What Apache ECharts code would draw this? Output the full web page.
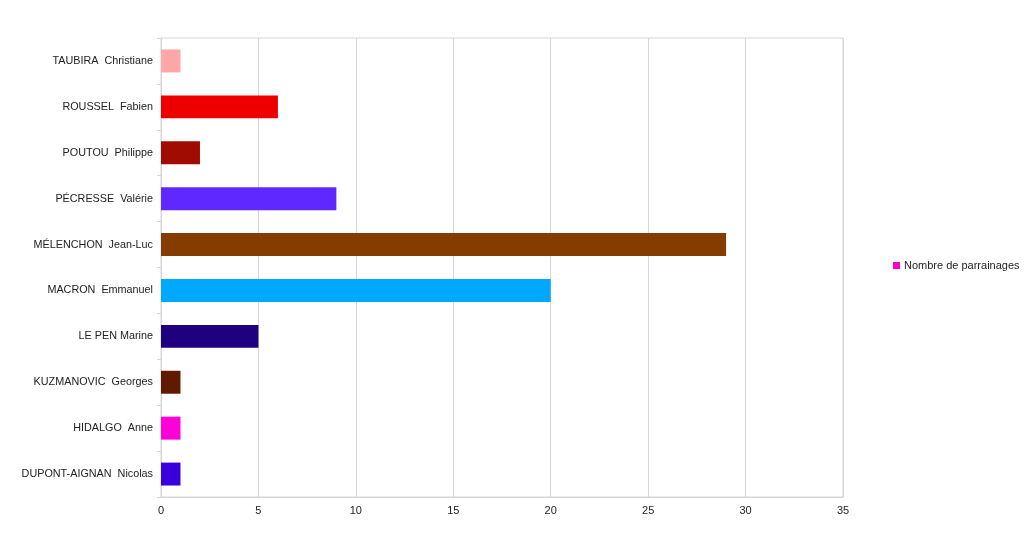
<!DOCTYPE html>
<html><head><meta charset="utf-8">
<script src="https://cdn.jsdelivr.net/npm/echarts@6/dist/echarts.min.js"></script>
<style>html,body{margin:0;padding:0;background:#fff}#c{width:1024px;height:533px}</style>
</head><body><div id="c"></div>
<script>
const categories = ["DUPONT-AIGNAN  Nicolas","HIDALGO  Anne","KUZMANOVIC  Georges","LE PEN Marine","MACRON  Emmanuel","MÉLENCHON  Jean-Luc","PÉCRESSE  Valérie","POUTOU  Philippe","ROUSSEL  Fabien","TAUBIRA  Christiane"];
const values = [1,1,1,5,20,29,9,2,6,1];
const barColors = ["#3a00dc","#ff00d6","#5f1a00","#1f007f","#00a8ff","#843c00","#5f28ff","#a00d00","#ee0000","#ffa6a6"];
const xTicks = [0,5,10,15,20,25,30,35];
const seriesName = "Nombre de parrainages";

const chart = echarts.init(document.getElementById('c'), null, {renderer:'canvas'});
chart.setOption({
  animation:false,
  backgroundColor:'#fff',
  textStyle:{fontFamily:'Liberation Sans, Arial, sans-serif'},
  grid:{left:161,right:181,top:38,bottom:36,show:true,borderColor:'#d6d6d6',borderWidth:1},
  legend:{
    orient:'vertical', left:893, top:260, padding:0,
    itemWidth:7, itemHeight:7, itemGap:4,
    icon:'rect',
    textStyle:{fontSize:11,color:'#222',padding:[0,0,0,-1]},
    data:[seriesName]
  },
  xAxis:{
    type:'value', min:xTicks[0], max:xTicks[xTicks.length-1], interval:5,
    axisLine:{show:true,lineStyle:{color:'#d6d6d6'}},
    axisTick:{show:false},
    splitLine:{show:true,lineStyle:{color:'#d6d6d6'}},
    axisLabel:{color:'#222',fontSize:11,margin:8}
  },
  yAxis:{
    type:'category', data:categories,
    axisLine:{show:true,lineStyle:{color:'#d6d6d6'}},
    axisTick:{show:true,length:4,lineStyle:{color:'#d6d6d6'}},
    axisLabel:{color:'#222',fontSize:10.8,margin:8}
  },
  series:[{
    name:seriesName, type:'bar', barWidth:'50%',
    itemStyle:{color:'#ff00cc'},
    data:values.map((v,i)=>({value:v,itemStyle:{color:barColors[i]}}))
  }]
});
</script></body></html>
